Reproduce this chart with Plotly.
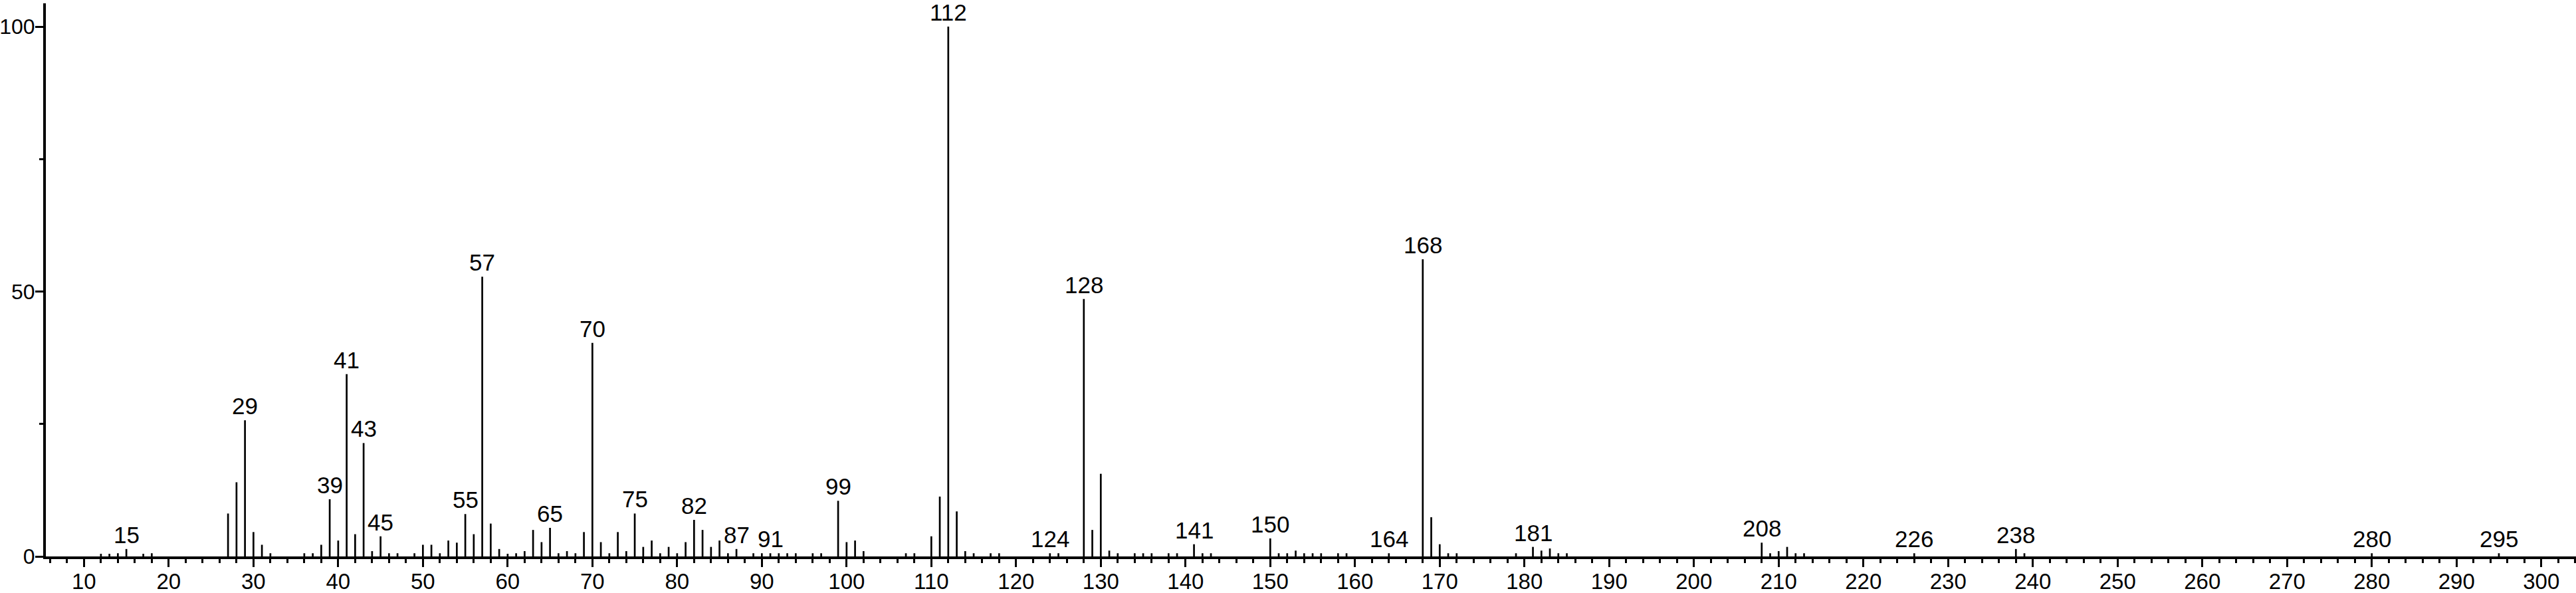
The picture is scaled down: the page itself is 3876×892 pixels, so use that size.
import plotly.graph_objects as go

# m/z values and relative intensities (%)
mz = [12, 13, 14, 15, 17, 18,
      27, 28, 29, 30, 31, 32,
      36, 37, 38, 39, 40, 41, 42, 43, 44, 45, 46, 47, 49,
      50, 51, 52, 53, 54, 55, 56, 57, 58, 59,
      60, 61, 62, 63, 64, 65, 66, 67, 68, 69,
      70, 71, 72, 73, 74, 75, 76, 77, 78, 79,
      80, 81, 82, 83, 84, 85, 86, 87, 89,
      90, 91, 92, 93, 94, 96, 97, 99,
      100, 101, 102, 107, 108,
      110, 111, 112, 113, 114, 115, 117, 118,
      124, 125, 128, 129,
      130, 131, 132, 134, 135, 136, 138, 139,
      141, 142, 143,
      150, 151, 152, 153, 154, 155, 156, 158, 159,
      164, 168, 169,
      170, 171, 172, 179,
      181, 182, 183, 184, 185,
      208, 209, 210, 211, 212, 213,
      226, 238, 239, 280, 295]
intensity = [0.5, 0.5, 0.6, 1.4, 0.5, 0.6,
             8.1, 14.0, 25.7, 4.6, 2.2, 0.6,
             0.6, 0.6, 2.2, 10.8, 3.0, 34.4, 4.2, 21.4, 1.0, 3.8, 0.6, 0.6, 0.6,
             2.2, 2.2, 0.6, 3.0, 2.6, 8.0, 4.2, 52.8, 6.2, 1.4,
             0.5, 0.6, 1.0, 5.0, 2.7, 5.4, 0.6, 1.0, 0.6, 4.6,
             40.3, 2.7, 0.6, 4.6, 1.0, 8.1, 1.8, 3.0, 0.6, 1.8,
             0.6, 2.7, 6.9, 5.0, 1.8, 3.0, 0.6, 1.4, 0.6,
             0.6, 0.6, 0.6, 0.6, 0.6, 0.6, 0.6, 10.5,
             2.7, 3.0, 1.0, 0.6, 0.6,
             3.8, 11.3, 100.0, 8.5, 1.0, 0.6, 0.6, 0.6,
             0.6, 0.6, 48.6, 5.0,
             15.6, 1.1, 0.6, 0.6, 0.6, 0.6, 0.6, 0.6,
             2.3, 0.6, 0.6,
             3.4, 0.6, 0.6, 1.1, 0.6, 0.6, 0.6, 0.6, 0.6,
             0.6, 56.1, 7.4,
             2.3, 0.6, 0.6, 0.6,
             1.8, 1.1, 1.5, 0.6, 0.6,
             2.6, 0.6, 1.0, 1.8, 0.6, 0.6,
             0.6, 1.4, 0.6, 0.6, 0.6]

# peaks that carry an m/z label
labeled_mz = [15, 29, 39, 41, 43, 45, 55, 57, 65, 70, 75, 82, 87, 91, 99,
              112, 124, 128, 141, 150, 164, 168, 181, 208, 226, 238, 280, 295]

x_ticks = list(range(10, 301, 10))
y_ticks = [0, 50, 100]

FONT = "Liberation Sans, Arial, sans-serif"
FS = 35

# stick spectrum built from the data arrays
xs, ys = [], []
for m, h in zip(mz, intensity):
    xs += [m, m, None]
    ys += [0, h, None]

fig = go.Figure()
fig.add_trace(go.Scatter(x=xs, y=ys, mode="lines",
                         line=dict(color="black", width=2.7),
                         hoverinfo="skip", showlegend=False))

lookup = dict(zip(mz, intensity))
for m in labeled_mz:
    fig.add_annotation(x=m, y=lookup[m], text=str(m), showarrow=False,
                       xanchor="center", yanchor="bottom", yshift=0,
                       font=dict(family=FONT, size=FS, color="black"))

fig.update_layout(
    width=3876, height=892,
    margin=dict(l=69, r=0, t=5, b=55),
    paper_bgcolor="white", plot_bgcolor="white",
    showlegend=False,
    font=dict(family=FONT, size=FS, color="black"),
)
fig.update_xaxes(range=[5.5, 304.1], showgrid=False, zeroline=False,
                 automargin=False,
                 showline=True, linecolor="black", linewidth=4,
                 ticks="outside", ticklen=12, tickwidth=3, tickcolor="black",
                 tickmode="array", tickvals=x_ticks,
                 ticktext=[str(v) for v in x_ticks],
                 ticklabelstandoff=-7,
                 tickfont=dict(family=FONT, size=33, color="black"),
                 minor=dict(dtick=2, tick0=0, ticks="outside", ticklen=6,
                            tickwidth=3, tickcolor="black", showgrid=False))
fig.update_yaxes(range=[0, 104.4], showgrid=False, zeroline=False,
                 automargin=False,
                 showline=True, linecolor="black", linewidth=4,
                 ticks="outside", ticklen=12, tickwidth=3, tickcolor="black",
                 tickmode="array", tickvals=y_ticks,
                 ticktext=[str(v) for v in y_ticks],
                 ticklabelstandoff=-6,
                 tickfont=dict(family=FONT, size=32, color="black"),
                 minor=dict(tickvals=[25, 75], ticks="outside", ticklen=6,
                            tickwidth=3, tickcolor="black", showgrid=False))

fig.write_html("out.html",
               config={"displayModeBar": False},
               post_script="document.body.style.margin='0';"
                           "document.body.style.overflow='hidden';")
